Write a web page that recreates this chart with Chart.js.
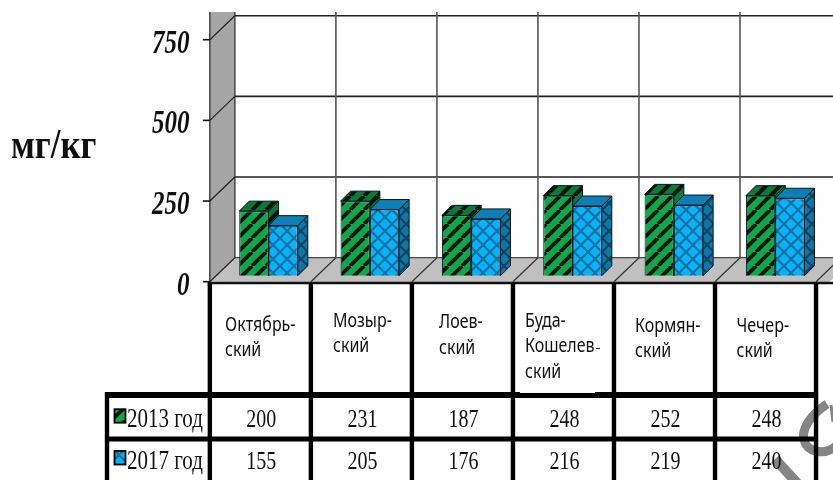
<!DOCTYPE html>
<html>
<head>
<meta charset="utf-8">
<script src="https://cdn.jsdelivr.net/npm/chart.js@4"></script>
<style>
html, body { margin: 0; padding: 0; background: #fff; }
canvas { display: block; }
</style>
</head>
<body>
<canvas id="chart" width="833" height="480"></canvas>
<script>
const districts = [
    ['Октябрь-', 'ский'],
    ['Мозыр-', 'ский'],
    ['Лоев-', 'ский'],
    ['Буда-', 'Кошелев', 'ский'],
    ['Кормян-', 'ский'],
    ['Чечер-', 'ский']
];
const seriesNames = ['2013 год', '2017 год'];
const values2013 = [200, 231, 187, 248, 252, 248];
const values2017 = [155, 205, 176, 216, 219, 240];
const yTicks = [0, 250, 500, 750];
const unitLabel = 'мг/кг';

// 3d box offsets, in pixels
const BAR_DEPTH = 10;
const WALL_DX = 25;
const WALL_DY = 24;
const PLANE_SHIFT = 8;
const TABLE_TOP = 283;
const ROW_1 = 395;
const ROW_2 = 439;
const TABLE_LEFT = 107;

function tile(size, paint) {
    const c = document.createElement('canvas');
    c.width = size;
    c.height = size;
    paint(c.getContext('2d'), size);
    return document.createElement('canvas').getContext('2d').createPattern(c, 'repeat');
}

function stripes(base, ink, width) {
    return tile(14, (g, s) => {
        g.fillStyle = base;
        g.fillRect(0, 0, s, s);
        g.strokeStyle = ink;
        g.lineWidth = width;
        [-s, 0, s].forEach(o => {
            g.beginPath();
            g.moveTo(o, s);
            g.lineTo(o + s, 0);
            g.stroke();
        });
    });
}

function lattice(base, ink, width) {
    return tile(14, (g, s) => {
        g.fillStyle = base;
        g.fillRect(0, 0, s, s);
        g.strokeStyle = ink;
        g.lineWidth = width;
        g.beginPath();
        g.moveTo(0, 0);
        g.lineTo(s, s);
        g.moveTo(s, 0);
        g.lineTo(0, s);
        g.stroke();
    });
}

const greenFront = stripes('#0ca84a', '#06140a', 3.8);
const greenSide = stripes('#0a7a38', '#06140a', 4);
const blueFront = lattice('#04b4fb', '#14709f', 2.2);
const blueSide = lattice('#0f77a8', '#0a4664', 2.2);

const faces = [
    { front: greenFront, side: greenSide, top: greenSide },
    { front: blueFront, side: blueSide, top: '#0d7fb4' }
];

function poly(ctx, pts, fill, stroke, lw) {
    ctx.beginPath();
    pts.forEach((p, i) => i ? ctx.lineTo(p[0], p[1]) : ctx.moveTo(p[0], p[1]));
    ctx.closePath();
    if (fill) {
        ctx.fillStyle = fill;
        ctx.fill();
    }
    if (stroke) {
        ctx.strokeStyle = stroke;
        ctx.lineWidth = lw || 1;
        ctx.stroke();
    }
}

function line(ctx, x1, y1, x2, y2, color, lw) {
    ctx.beginPath();
    ctx.moveTo(x1, y1);
    ctx.lineTo(x2, y2);
    ctx.strokeStyle = color;
    ctx.lineWidth = lw;
    ctx.stroke();
}

// All the text on this chart is tall and narrow, so it gets stretched vertically
function tallText(ctx, text, x, baseline, stretch) {
    ctx.save();
    ctx.translate(x, baseline);
    ctx.scale(1, stretch);
    ctx.fillText(text, 0, 0);
    ctx.restore();
}

// Column edges of the data table follow the category scale
function columnEdges(chart) {
    const x = chart.scales.x;
    const step = x.getPixelForValue(1) - x.getPixelForValue(0);
    const edges = districts.map((d, i) => x.getPixelForValue(i) - step / 2 - PLANE_SHIFT - i * 0.3);
    edges.push(edges[edges.length - 1] + step - 0.3);
    return edges;
}

const wallsPlugin = {
    id: 'walls',
    beforeDatasetsDraw(chart) {
        const ctx = chart.ctx;
        const y = chart.scales.y;
        const edges = columnEdges(chart);
        const x0 = edges[0];
        const y0 = y.getPixelForValue(0);
        const wallTop = 12;
        ctx.save();

        // side wall and floor
        poly(ctx, [[x0, wallTop], [x0 + WALL_DX, wallTop], [x0 + WALL_DX, y0 - WALL_DY], [x0, y0]], '#a6a6a6');
        poly(ctx, [[x0, y0], [x0 + WALL_DX, y0 - WALL_DY], [860, y0 - WALL_DY], [edges[6] + 12, y0 + 1]], '#c0c0c0');
        line(ctx, x0, wallTop, x0, y0, '#444', 1.5);
        line(ctx, x0 + WALL_DX, wallTop, x0 + WALL_DX, y0 - WALL_DY, '#444', 1.5);

        // gridlines on the back wall and side wall
        y.ticks.forEach(t => {
            const py = y.getPixelForValue(t.value);
            line(ctx, x0 + WALL_DX, py - WALL_DY, 833, py - WALL_DY, '#222', t.value === 0 ? 1 : 1.6);
            line(ctx, x0, py, x0 + WALL_DX, py - WALL_DY, '#222', 1.2);
            line(ctx, x0 - 7, py, x0, py, '#111', 1.6);
        });
        edges.slice(1).forEach(e => {
            line(ctx, e + WALL_DX, wallTop, e + WALL_DX, y0 - WALL_DY, '#555', 1.6);
            line(ctx, e, y0, e + WALL_DX, y0 - WALL_DY, '#333', 1.2);
        });

        // y axis labels
        ctx.fillStyle = '#111';
        ctx.font = 'italic bold 25px "Liberation Serif"';
        ctx.textAlign = 'right';
        ctx.textBaseline = 'alphabetic';
        y.ticks.forEach(t => {
            tallText(ctx, String(t.value), 189.5, y.getPixelForValue(t.value) + 13, 1.36);
        });

        // top and right faces of the bars
        [0, 1].forEach(ds => {
            chart.getDatasetMeta(ds).data.forEach(bar => {
                const b = bar.getProps(['x', 'y', 'width', 'base'], true);
                const l = b.x - b.width / 2;
                const r = b.x + b.width / 2;
                const d = BAR_DEPTH;
                poly(ctx, [[r, b.y], [r + d, b.y - d], [r + d, b.base - d], [r, b.base]], faces[ds].side, '#06141c', 1);
                poly(ctx, [[l, b.y], [l + d, b.y - d], [r + d, b.y - d], [r, b.y]], faces[ds].top, '#06141c', 1);
            });
        });
        ctx.restore();
    }
};

// Grey stamp that runs off the bottom right corner of the page
function drawStamp(ctx) {
    ctx.save();
    ctx.strokeStyle = '#858585';
    ctx.lineWidth = 9;
    ctx.beginPath();
    ctx.moveTo(827, 404);
    ctx.bezierCurveTo(812, 414, 801, 428, 804, 440);
    ctx.bezierCurveTo(807, 452, 824, 456, 836, 446);
    ctx.stroke();
    line(ctx, 831, 405, 833, 422, '#858585', 3);
    ctx.lineWidth = 10;
    ctx.beginPath();
    ctx.moveTo(775, 459);
    ctx.lineTo(798, 484);
    ctx.stroke();
    ctx.restore();
}

const tablePlugin = {
    id: 'dataTable',
    afterDraw(chart) {
        const ctx = chart.ctx;
        const edges = columnEdges(chart);
        const bottom = 480;
        ctx.save();

        drawStamp(ctx);

        // table rules
        line(ctx, edges[0] - 2, TABLE_TOP, 833, TABLE_TOP, '#111', 2.4);
        edges.forEach(e => line(ctx, e, TABLE_TOP, e, bottom, '#000', 4.4));
        line(ctx, TABLE_LEFT, ROW_1 - 3, TABLE_LEFT, bottom, '#000', 4.4);
        line(ctx, TABLE_LEFT - 2, ROW_1, edges[6] + 2, ROW_1, '#000', 6);
        line(ctx, TABLE_LEFT - 2, ROW_2, edges[6] + 2, ROW_2, '#000', 5);

        // a pasted-over label cell hides part of the rule under it
        ctx.fillStyle = '#fff';
        ctx.fillRect(edges[3] + 7, 385, 75, 8);

        // district names
        const nameX = [225, 333, 439, 525, 635, 736.5];
        const nameY = [330.7, 326.7, 328, 326.7, 331.7, 331.7];
        ctx.fillStyle = '#111';
        ctx.font = '16px "Noto Sans"';
        ctx.textAlign = 'left';
        ctx.textBaseline = 'alphabetic';
        districts.forEach((rows, i) => {
            rows.forEach((text, k) => {
                tallText(ctx, text, nameX[i], nameY[i] + k * 25.5, 1.2);
            });
        });
        ctx.fillRect(596, 348, 4, 1);

        // series rows
        const rowBaseline = [426.7, 468.5];
        ctx.font = '20px "Liberation Serif"';
        ctx.textAlign = 'center';
        [values2013, values2017].forEach((vals, r) => {
            vals.forEach((v, i) => {
                tallText(ctx, String(v), (edges[i] + edges[i + 1]) / 2 + 1, rowBaseline[r], 1.3);
            });
        });
        ctx.textAlign = 'left';
        ctx.font = '21px "Liberation Serif"';
        seriesNames.forEach((name, r) => {
            const keyTop = rowBaseline[r] - 17.5;
            ctx.fillStyle = faces[r].front;
            ctx.fillRect(114.5, keyTop, 11, 13.5);
            ctx.strokeStyle = '#000';
            ctx.lineWidth = 1.8;
            ctx.strokeRect(114.5, keyTop, 11, 13.5);
            ctx.fillStyle = '#111';
            tallText(ctx, name, 127, rowBaseline[r], 1.25);
        });

        // unit caption
        ctx.font = 'bold 35px "Liberation Serif"';
        tallText(ctx, unitLabel, 11, 158, 1.2);
        ctx.restore();
    }
};

new Chart(document.getElementById('chart'), {
    type: 'bar',
    data: {
        labels: districts.map(d => d.join(' ')),
        datasets: [
            {
                label: seriesNames[0],
                data: values2013,
                yAxisID: 'yBars',
                backgroundColor: faces[0].front,
                borderColor: '#06141c',
                borderWidth: 1,
                barPercentage: 1,
                categoryPercentage: 0.578
            },
            {
                label: seriesNames[1],
                data: values2017,
                yAxisID: 'yBars',
                backgroundColor: faces[1].front,
                borderColor: '#06141c',
                borderWidth: 1,
                barPercentage: 1,
                categoryPercentage: 0.578
            }
        ]
    },
    options: {
        responsive: false,
        animation: false,
        layout: { padding: { top: 39.7, right: 7.15, bottom: 198.3, left: 0 } },
        plugins: {
            legend: { display: false },
            tooltip: { enabled: false },
            title: { display: false }
        },
        scales: {
            x: {
                display: false,
                grid: { display: false }
            },
            y: {
                position: 'left',
                min: 0,
                max: 750,
                afterFit(scale) { scale.width = 217.85; },
                afterBuildTicks(scale) { scale.ticks = yTicks.map(v => ({ value: v })); },
                grid: { display: false },
                border: { display: false },
                ticks: { display: false }
            },
            // bars stand a little in front of the wall, so their zero sits 6px higher
            yBars: {
                display: false,
                min: -18.6,
                max: 731.4
            }
        }
    },
    plugins: [wallsPlugin, tablePlugin]
});
</script>
</body>
</html>
